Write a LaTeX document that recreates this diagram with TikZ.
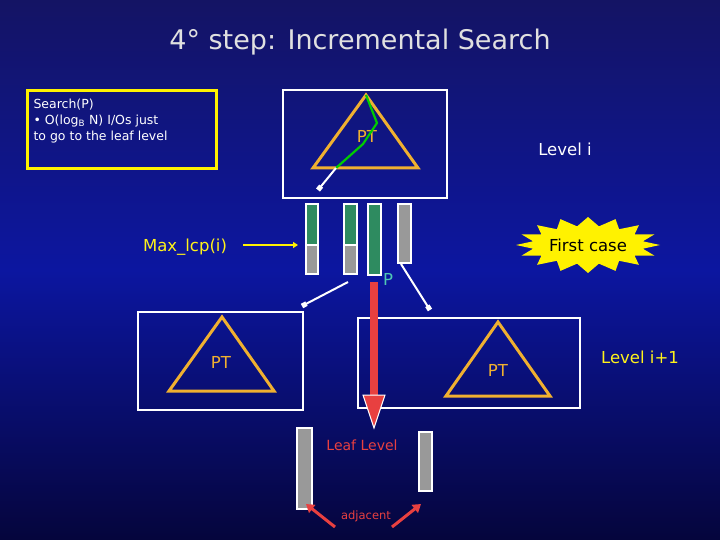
\documentclass[tikz,border=0pt]{standalone}
\usepackage{fontspec}
\setmainfont{DejaVu Sans}
\usetikzlibrary{arrows.meta}
\definecolor{tri}{HTML}{F0B030}
\definecolor{barg}{HTML}{2E8B60}
\definecolor{barr}{HTML}{999999}
\definecolor{lred}{HTML}{E84040}
\definecolor{ttl}{HTML}{E0E0E0}
\tikzset{
 px/.style={x=1pt,y=-1pt},
 wbox/.style={draw=white,line width=2.5pt},
 trio/.style={draw=tri,line width=3pt,line join=miter},
 barbox/.style={draw=white,line width=1.8pt},
 warr/.style={draw=white,line width=2pt,-{Square[length=5pt,width=5pt]}},
 rarr/.style={draw=lred,line width=3pt,-{Triangle[length=8pt,width=10pt]}},
 lbl/.style={font=\fontsize{16.5}{19}\selectfont},
}
\begin{document}
\begin{tikzpicture}[px]
\useasboundingbox (0,0) rectangle (720,540);
\shade[top color={rgb,255:red,20;green,20;blue,100},bottom color={rgb,255:red,5;green,5;blue,60},middle color={rgb,255:red,12;green,22;blue,160}] (0,0) rectangle (720,540);
\node[text=ttl,font=\fontsize{27}{30}\selectfont] (title) at (360,42) {4° step: Incremental Search};
% search box
\draw[draw=yellow,line width=3pt] (27,91) rectangle (216,169);
\node[text=white,anchor=north west,align=left,font=\fontsize{12.5}{16}\selectfont] (srch) at (30,95) {Search(P)\\• O(log$_\mathrm{B}$ N) I/Os just\\to go to the leaf level};
% top box
\draw[wbox] (283,90) rectangle (447,198);
\draw[trio] (366,95) -- (418,168) -- (313,168) -- cycle;
\node[text=tri,lbl] (pt1) at (367,136) {PT};
\draw[green!80!black,line width=2.2pt] (366,95) -- (377,123) -- (363,144) -- (336,168);
\coordinate (g1) at (336,168);
\coordinate (g2) at (318,190);
\draw[warr] (g1) -- (g2);
\node[text=white,lbl] (li) at (565,149) {Level i};
% bars
\fill[barg] (306,204) rectangle (318,245); \fill[barr] (306,245) rectangle (318,274);
\draw[barbox] (306,204) rectangle (318,274); \draw[barbox] (306,245) -- (318,245);
\fill[barg] (344,204) rectangle (357,245); \fill[barr] (344,245) rectangle (357,274);
\draw[barbox] (344,204) rectangle (357,274); \draw[barbox] (344,245) -- (357,245);
\fill[barg] (368,204) rectangle (381,275); \draw[barbox] (368,204) rectangle (381,275);
\fill[barr] (398,204) rectangle (411,263); \draw[barbox] (398,204) rectangle (411,263);
\node[text=yellow!90!white,lbl] (mx) at (185,247) {Max\_lcp(i)};
\coordinate (ma) at (243,245); \coordinate (mb) at (298,245);
\draw[yellow,line width=2pt,-{Triangle[length=5pt,width=6pt]}] (ma) -- (mb);
\node[text={rgb,255:red,80;green,200;blue,180},lbl] (p) at (388,279) {P};
% starburst
\fill[yellow] (660,245) \foreach \i in {1,...,31} { -- ({588+(mod(\i,2)==0?72:56)*cos(\i*11.25)},{245+(mod(\i,2)==0?28:19)*sin(\i*11.25)}) } -- cycle;
\node[text=black,lbl] (fc) at (588,245) {First case};
% white arrows to level i+1
\coordinate (w1) at (348,282); \coordinate (w2) at (302,306);
\coordinate (w3) at (401,264); \coordinate (w4) at (430,310);
\draw[warr] (w1) -- (w2);
\draw[warr] (w3) -- (w4);
% lower boxes
\draw[wbox] (138,312) rectangle (303,410);
\draw[trio] (222,317) -- (274,391) -- (169,391) -- cycle;
\node[text=tri,lbl] (pt2) at (221,362) {PT};
\draw[wbox] (358,318) rectangle (580,408);
\draw[trio] (498,322) -- (550,396) -- (446,396) -- cycle;
\node[text=tri,lbl] (pt3) at (498,370) {PT};
\node[text=yellow!90!white,lbl] (li1) at (640,357) {Level i+1};
% red arrow
\fill[lred] (370,282) rectangle (378,396);
\filldraw[fill=lred,draw=white,line width=1pt] (363,395) -- (385,395) -- (374,428) -- cycle;
% leaf level
\node[text=lred,font=\fontsize{14}{16}\selectfont] (ll) at (362,445) {Leaf Level};
\fill[barr] (297,428) rectangle (312,509); \draw[barbox] (297,428) rectangle (312,509);
\fill[barr] (419,432) rectangle (432,491); \draw[barbox] (419,432) rectangle (432,491);
\node[text=lred,font=\fontsize{11.5}{13}\selectfont] (adj) at (366,516) {adjacent};
\coordinate (a1) at (335,527); \coordinate (a2) at (306,504);
\coordinate (a3) at (392,527); \coordinate (a4) at (421,504);
\draw[rarr] (a1) -- (a2);
\draw[rarr] (a3) -- (a4);
\end{tikzpicture}
\end{document}
